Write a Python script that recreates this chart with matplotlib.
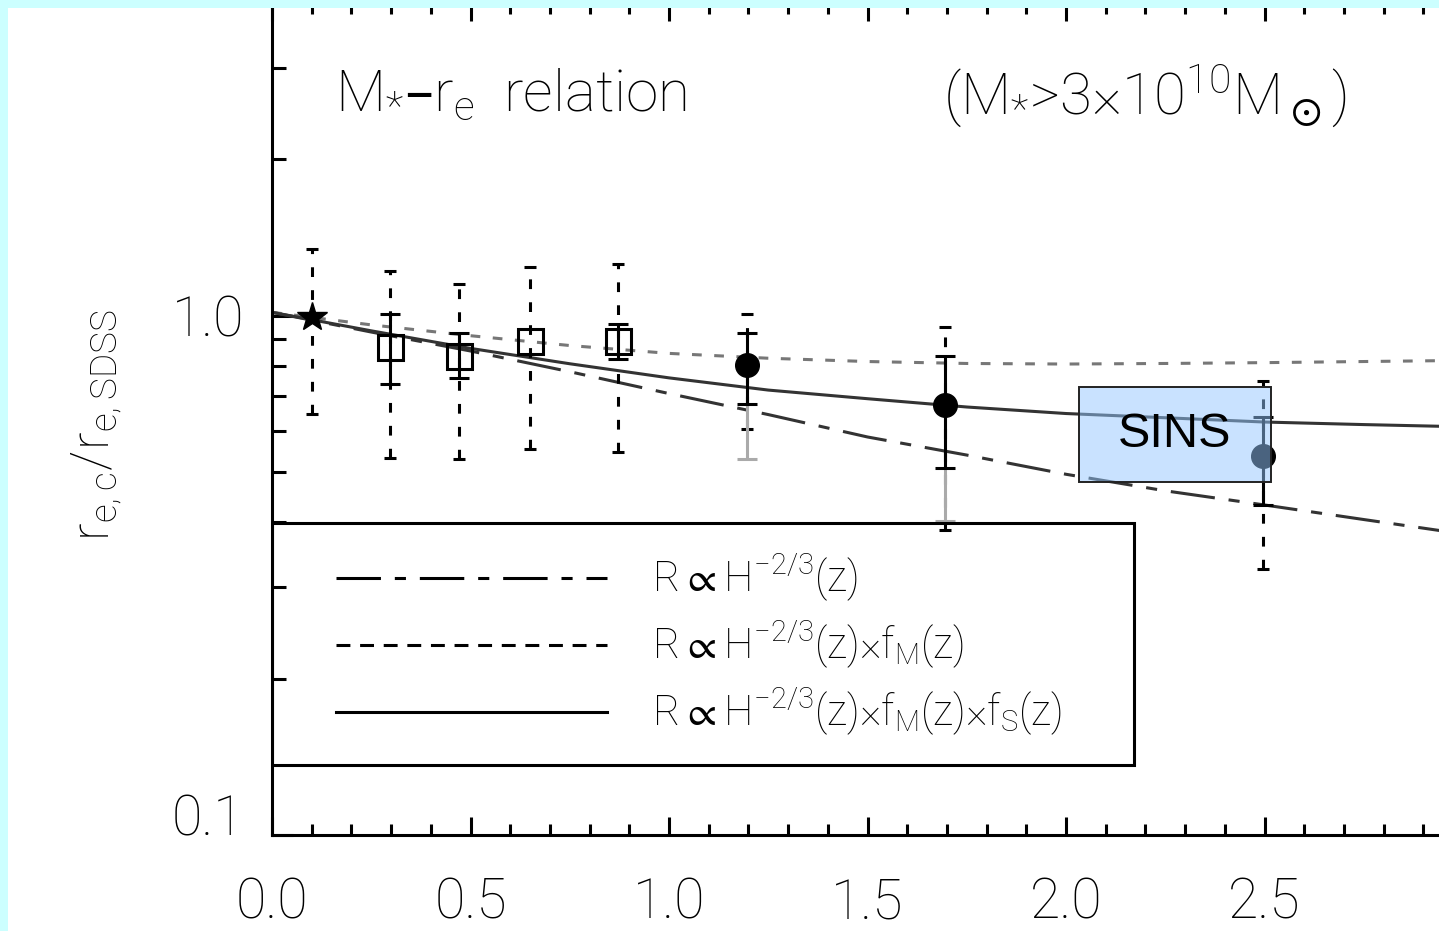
import matplotlib
matplotlib.use("Agg")
import matplotlib.pyplot as plt
from matplotlib.patches import Rectangle
from matplotlib.lines import Line2D
from matplotlib.transforms import ScaledTranslation
from matplotlib.ticker import FixedLocator, NullFormatter, FixedFormatter

plt.rcParams['font.family'] = ['Roboto', 'DejaVu Sans']
plt.rcParams['font.weight'] = 'light'
plt.rcParams['mathtext.default'] = 'regular'
plt.rcParams['lines.scale_dashes'] = False

# region data
# model size evolution, normalised to the local relation
z_model = [0.0, 0.25, 0.5, 0.75, 1.0, 1.25, 1.5, 1.75, 2.0, 2.25, 2.5, 2.75, 3.0]
r_hubble = [1.015, 0.93, 0.855, 0.78, 0.708, 0.645, 0.584, 0.539, 0.495, 0.46, 0.432, 0.405, 0.38]
r_hubble_fm = [1.015, 0.96, 0.915, 0.876, 0.846, 0.828, 0.816, 0.809, 0.807, 0.809, 0.812, 0.816, 0.82]
r_hubble_fm_fs = [1.015, 0.935, 0.865, 0.808, 0.759, 0.719, 0.692, 0.667, 0.648, 0.636, 0.624, 0.617, 0.611]

# local (SDSS) point
z_local = [0.1]
r_local = [0.994]
local_lo_sys = [0.648]
local_hi_sys = [1.346]

# intermediate redshift bins (open squares); the 0.65 bin has no visible statistical error
z_sq = [0.297, 0.472, 0.649, 0.872]
r_sq = [0.870, 0.836, 0.893, 0.893]
sq_lo = [0.737, 0.759, 0.893, 0.827]
sq_hi = [1.009, 0.926, 0.893, 0.965]
sq_lo_sys = [0.531, 0.529, 0.553, 0.546]
sq_hi_sys = [1.217, 1.151, 1.239, 1.255]

# high redshift bins (filled circles)
z_hi = [1.196, 1.696, 2.497]
r_hi = [0.805, 0.672, 0.536]
hi_lo = [0.675, 0.508, 0.432]
hi_hi = [0.926, 0.837, 0.637]
hi_lo_sys = [0.604, 0.386, 0.325]
hi_hi_sys = [1.008, 0.951, 0.747]
# extended lower limits (grey)
z_ext = [1.196, 1.696]
r_ext = [0.805, 0.672]
ext_lo = [0.530, 0.403]

# SINS region
sins_z = [2.033, 2.516]
sins_r = [0.478, 0.729]

x_ticks = [0.0, 0.5, 1.0, 1.5, 2.0, 2.5, 3.0]
x_ticklabels = ['0.0', '0.5', '1.0', '1.5', '2.0', '2.5', '']
y_ticks = [0.1, 1.0]
y_ticklabels = ['0.1', '1.0']

legend_labels = [r'R$\propto$H$^{-2/3}$(z)',
                 r'R$\propto$H$^{-2/3}$(z)$\times$f$_M$(z)',
                 r'R$\propto$H$^{-2/3}$(z)$\times$f$_M$(z)$\times$f$_S$(z)']
# endregion

W, H = 1439, 931
fig = plt.figure(figsize=(W / 100, H / 100), dpi=100)
fig.patch.set_facecolor('white')

# axes run past the right edge of the canvas (x up to 3.0)
x0, x1, yb, yt = 272, 1463, 835, 3
ax = fig.add_axes([x0 / W, (H - yb) / H, (x1 - x0) / W, (yb - yt) / H])
ax.set_xlim(0, 3.0)
ax.set_yscale('log')
ax.set_ylim(0.1, 4.0)

LW = 2.2
dashdot = (0, (32, 10, 8, 10))
dotted = (0, (7, 9))
errdash = (0, (7, 9.5))

ax.plot(z_model, r_hubble, color='#333333', lw=LW, ls=dashdot, zorder=2)
ax.plot(z_model, r_hubble_fm, color='#777777', lw=LW, ls=dotted, zorder=2)
ax.plot(z_model, r_hubble_fm_fs, color='#333333', lw=LW, zorder=2)


def err(z, r, lo, hi, color='k', ls='-', cap=7, zorder=3):
    # skip bins whose range collapses onto the point
    keep = [i for i in range(len(z)) if hi[i] > lo[i]]
    z = [z[i] for i in keep]
    yerr = [[r[i] - lo[i] for i in keep], [hi[i] - r[i] for i in keep]]
    r = [r[i] for i in keep]
    eb = ax.errorbar(z, r, yerr=yerr, fmt='none', ecolor=color, elinewidth=LW,
                     capsize=cap, capthick=LW, zorder=zorder)
    if ls != '-':
        eb[2][0].set_linestyle(ls)
    return eb


# systematic ranges (dashed)
err(z_local, r_local, local_lo_sys, local_hi_sys, ls=errdash, cap=4)
err(z_sq, r_sq, sq_lo_sys, sq_hi_sys, ls=errdash, cap=4)
err(z_hi, r_hi, hi_lo_sys, hi_hi_sys, ls=errdash, cap=4)
# grey extensions, then statistical errors
err(z_ext, r_ext, ext_lo, r_ext, color='#aaaaaa', cap=7)
err(z_sq, r_sq, sq_lo, sq_hi, cap=7, zorder=4)
err(z_hi, r_hi, hi_lo, hi_hi, cap=7, zorder=4)

ax.plot(z_local, r_local, '*', color='k', ms=22, zorder=5)
ax.plot(z_sq, r_sq, 's', mfc='none', mec='k', mew=LW, ms=18, zorder=5)
ax.plot(z_hi, r_hi, 'o', color='k', ms=17, zorder=5)

# SINS box
ax.add_patch(Rectangle((sins_z[0], sins_r[0]), sins_z[1] - sins_z[0], sins_r[1] - sins_r[0],
                       facecolor=(0.58, 0.78, 1.0, 0.5), edgecolor='#222222', lw=1.4, zorder=6))
ax.text(sum(sins_z) / 2, (sins_r[0] * sins_r[1]) ** 0.5, 'SINS', family='Liberation Sans',
        weight='normal', fontsize=35, ha='center', va='center', zorder=7)

# annotations
ax.text(0.053, 0.889, 'M$_{\\mathregular{*}}$\u2013r$_e$  relation',
        transform=ax.transAxes, fontsize=42, va='center', ha='left')
ax.text(0.563, 0.889, '(M$_{\\mathregular{*}}$>3\u00d710$^{10}$M$_\\odot$)',
        transform=ax.transAxes, fontsize=42, va='center', ha='left')

# legend
ax.add_patch(Rectangle((0.0, 0.0841), 0.7238, 0.2909, transform=ax.transAxes,
                       facecolor='none', edgecolor='k', lw=LW, zorder=8))
for ypos, style, lab in zip([0.3089, 0.2284, 0.1478], [dashdot, (0, (10, 7)), '-'], legend_labels):
    ax.add_line(Line2D([0.0537, 0.2813], [ypos, ypos], transform=ax.transAxes,
                       color='k', lw=LW, ls=style, zorder=8))
    ax.text(0.319, ypos, lab, transform=ax.transAxes, fontsize=30, va='center', ha='left', zorder=8)

# axes styling
for s in ax.spines.values():
    s.set_linewidth(LW)
ax.xaxis.set_major_locator(FixedLocator(x_ticks))
ax.xaxis.set_minor_locator(FixedLocator([i / 10 for i in range(31)]))
ax.xaxis.set_major_formatter(FixedFormatter(x_ticklabels))
ax.yaxis.set_major_locator(FixedLocator(y_ticks))
ax.yaxis.set_major_formatter(FixedFormatter(y_ticklabels))
ax.yaxis.set_minor_locator(FixedLocator([0.2, 0.3, 0.4, 0.5, 0.6, 0.7, 0.8, 0.9, 2, 3]))
ax.yaxis.set_minor_formatter(NullFormatter())
ax.tick_params(which='both', direction='in', top=True, right=True, width=LW, labelsize=40)
ax.tick_params(axis='x', which='major', length=13, pad=30)
ax.tick_params(axis='x', which='minor', length=8)
ax.tick_params(axis='y', which='major', length=15, pad=20)
ax.tick_params(axis='y', which='minor', length=10)

fig.text(97 / W, 1 - 425 / H, r'r$_{e,c}$/r$_{e,SDSS}$', rotation=90, fontsize=38,
         ha='center', va='center')

# cyan frame along the top and left edges
fig.patches.append(Rectangle((0, 1 - 8 / H), 1, 8 / H, transform=fig.transFigure,
                             facecolor='#ccffff', edgecolor='none', zorder=20))
fig.patches.append(Rectangle((0, 0), 8 / W, 1, transform=fig.transFigure,
                             facecolor='#ccffff', edgecolor='none', zorder=20))

# lift the bottom y label clear of the x axis
fig.canvas.draw()
low = ax.yaxis.get_major_ticks()[0].label1
low.set_transform(low.get_transform() + ScaledTranslation(0, 0.2, fig.dpi_scale_trans))

fig.savefig('out.png', dpi=100)
